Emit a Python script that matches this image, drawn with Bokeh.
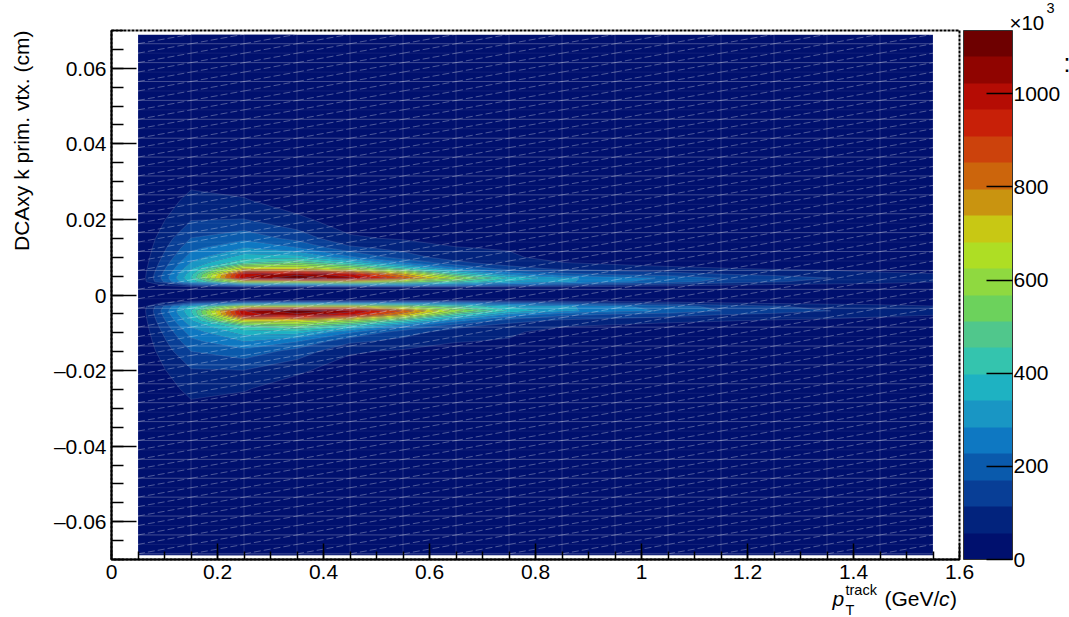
import numpy as np
from bokeh.plotting import figure
from bokeh.embed import file_html
from bokeh.resources import INLINE
from bokeh.layouts import column, row
from bokeh.models import (ColorBar, LinearColorMapper, FixedTicker, Label, Range1d)

pt_knots = [0.05, 0.15, 0.25, 0.35, 0.45, 0.55, 0.65, 0.75, 0.85, 0.95, 1.05, 1.15, 1.25, 1.35, 1.45, 1.55]
y_upper = [0, 0.0019, 0.0025, 0.0035, 0.0045, 0.0055, 0.007, 0.0085, 0.01, 0.0125, 0.015, 0.02, 0.025, 0.03, 0.0689]
y_lower = [0, 0.0013, 0.002, 0.003, 0.0042, 0.0052, 0.0068, 0.0083, 0.0098, 0.0123, 0.0148, 0.0198, 0.0248, 0.0298, 0.0689]

z_005 = [0, 0, 0, 0, 0, 0, 0, 0, 0, 0, 0, 0, 0, 0, 0]
z_015 = [0, 0, 120, 360, 395, 375, 330, 290, 255, 210, 172, 110, 72, 45, 0]
z_025 = [0, 0, 200, 650, 1020, 1000, 700, 450, 370, 284, 210, 115, 62, 30, 0]
z_035 = [0, 0, 220, 650, 1130, 1060, 700, 520, 370, 230, 150, 70, 25, 10, 0]
z_045 = [0, 0, 240, 680, 1040, 980, 600, 400, 240, 125, 65, 25, 8, 0, 0]
z_055 = [0, 0, 240, 580, 850, 760, 440, 240, 140, 95, 50, 12, 0, 0, 0]
z_065 = [0, 0, 220, 460, 600, 450, 250, 130, 85, 60, 30, 5, 0, 0, 0]
z_075 = [0, 0, 170, 340, 390, 270, 140, 85, 70, 50, 20, 0, 0, 0, 0]
z_085 = [0, 0, 130, 300, 300, 190, 100, 60, 25, 10, 0, 0, 0, 0, 0]
z_095 = [0, 0, 90, 240, 250, 160, 85, 45, 20, 0, 0, 0, 0, 0, 0]
z_105 = [0, 0, 70, 200, 220, 140, 70, 35, 15, 0, 0, 0, 0, 0, 0]
z_115 = [0, 0, 50, 150, 170, 115, 60, 30, 10, 0, 0, 0, 0, 0, 0]
z_125 = [0, 0, 35, 120, 140, 100, 50, 25, 8, 0, 0, 0, 0, 0, 0]
z_135 = [0, 0, 30, 95, 115, 85, 45, 20, 5, 0, 0, 0, 0, 0, 0]
z_145 = [0, 0, 25, 80, 95, 70, 35, 15, 0, 0, 0, 0, 0, 0, 0]
z_155 = [0, 0, 20, 60, 75, 60, 30, 10, 0, 0, 0, 0, 0, 0, 0]
columns = [z_005, z_015, z_025, z_035, z_045, z_055, z_065, z_075, z_085, z_095, z_105, z_115, z_125, z_135, z_145, z_155]

palette = ["#00106E", "#02237D", "#083E96", "#0A5AAC", "#0E78C2", "#1996C4", "#1EB2C2", "#34C4AE",
           "#50C78C", "#6CD25C", "#8FD940", "#AEDE24", "#C8C814", "#C99410", "#CC650C", "#CC420C",
           "#C82008", "#B50C04", "#900400", "#6E0000"]
z_top = 1136.0

x_major = [0, 0.2, 0.4, 0.6, 0.8, 1.0, 1.2, 1.4, 1.6]
x_labels = ["0", "0.2", "0.4", "0.6", "0.8", "1", "1.2", "1.4", "1.6"]
y_major = [-0.06, -0.04, -0.02, 0, 0.02, 0.04, 0.06]
y_labels = ["\u20130.06", "\u20130.04", "\u20130.02", "0", "0.02", "0.04", "0.06"]
cb_ticks = [0, 200, 400, 600, 800, 1000]

FONT = "Liberation Sans"
FS = "21px"

# page regions in pixels: strips hold the texts that lie outside the plot frame
W, H = 1069, 617
TOP, LEFT, RIGHT_X, BOTTOM_Y = 29, 40, 1062, 585
TOP_OVER, BOTTOM_OVER = 6, 5

def strip(x_a, x_b, y_a, y_b):
    s = figure(width=x_b - x_a, height=y_b - y_a, output_backend="svg", toolbar_location=None,
               x_range=Range1d(x_a, x_b), y_range=Range1d(y_b, y_a), min_border=0,
               x_axis_type=None, y_axis_type=None, background_fill_color=None, border_fill_color=None)
    s.grid.visible = False
    s.outline_line_color = None
    return s

def label(s, text, px, py, size=21.0, style="normal", **kw):
    s.add_layout(Label(x=px, y=py, text=text, text_font=FONT, text_font_size=f"{size}px", text_font_style=style,
                       text_color="black", text_baseline="top", **kw))

p = figure(frame_width=848, frame_height=529, output_backend="svg", toolbar_location=None,
           x_range=Range1d(0, 1.6), y_range=Range1d(-0.07, 0.07),
           min_border_left=111 - LEFT, min_border_top=30 - TOP, min_border_bottom=BOTTOM_Y - 559, min_border_right=103,
           background_fill_color="white", border_fill_color=None)
p.grid.visible = False
p.outline_line_color = "black"
p.outline_line_width = 2
p.outline_line_dash = "3 1"

y_all = np.array([-v for v in y_lower[:0:-1]] + y_upper)
z_all = np.array([c[:0:-1] + c for c in columns]).T.astype(float)
levels = list(np.linspace(0, z_top, len(palette) + 1))

p.quad(left=[pt_knots[0]], right=[pt_knots[-1]], bottom=[y_all[0]], top=[y_all[-1]],
       fill_color=palette[0], line_color=None)
p.contour(np.array(pt_knots), y_all, z_all, levels, fill_color=palette, line_color="white",
          line_alpha=[0.0] + [0.13] * len(palette), line_width=1)

# cell lines of the surface mesh
y_edges = np.arange(0.069, -0.0687, -0.0025)
bright = y_edges[1::2]
faint = y_edges[0::2]
x0, x1 = pt_knots[0], pt_knots[-1]
p.segment(x0=x0, x1=x1, y0=bright, y1=bright, line_color="white", line_alpha=0.26, line_width=1)
p.segment(x0=x0, x1=x1, y0=faint, y1=faint, line_color="white", line_alpha=0.07, line_width=1)
p.segment(x0=pt_knots, x1=pt_knots, y0=y_edges[-1], y1=y_edges[0], line_color="white", line_alpha=0.16, line_width=1)
xs0 = np.repeat(pt_knots[:-1], len(y_edges) - 1)
xs1 = np.repeat(pt_knots[1:], len(y_edges) - 1)
ys0 = np.tile(y_edges[1:], len(pt_knots) - 1)
ys1 = np.tile(y_edges[:-1], len(pt_knots) - 1)
p.segment(x0=xs0, x1=xs1, y0=ys0, y1=ys1, line_color="white", line_alpha=0.3, line_width=1, line_dash="7 3")

# axes
xa = p.xaxis[0]
xa.ticker = FixedTicker(ticks=x_major, minor_ticks=[round(i * 0.05, 2) for i in range(33)])
xa.major_label_overrides = dict(zip(x_major, x_labels))
ya = p.yaxis[0]
ya.ticker = FixedTicker(ticks=y_major, minor_ticks=[round(-0.07 + i * 0.005, 3) for i in range(29)])
ya.major_label_overrides = dict(zip(y_major, y_labels))
for ax in (xa, ya):
    ax.major_tick_out = 0
    ax.minor_tick_out = 0
    ax.axis_line_color = "black"
    ax.axis_line_width = 2
    ax.major_tick_line_color = "black"
    ax.minor_tick_line_color = "black"
    ax.major_tick_line_width = 1.5
    ax.minor_tick_line_width = 1.5
    ax.major_label_text_font = FONT
    ax.major_label_text_font_size = FS
    ax.major_label_text_color = "black"
xa.major_tick_in = 16
xa.minor_tick_in = 8
xa.major_label_standoff = 5
ya.major_tick_in = 25
ya.minor_tick_in = 12
ya.major_label_standoff = 5
ya.major_label_orientation = "horizontal"

# colour scale
mapper = LinearColorMapper(palette=palette, low=0, high=z_top)
cb = ColorBar(color_mapper=mapper, ticker=FixedTicker(ticks=cb_ticks), width=49, height=529,
              padding=0, margin=0, location=(4, 0),
              major_tick_in=26, major_tick_out=0, major_tick_line_color="black", major_tick_line_width=1.5,
              minor_tick_line_color=None, bar_line_color="#333333", bar_line_width=1, border_line_color=None,
              background_fill_color=None,
              major_label_text_font=FONT, major_label_text_font_size=FS, major_label_text_color="black",
              label_standoff=1)
p.add_layout(cb, "right")

# texts outside the frame (positions are the tops of the text boxes)
top = strip(0, W, 0, TOP + TOP_OVER)
label(top, "\u00d710", 1009, 10, size=20.5)
label(top, "3", 1046, 2, size=14.5)

left = strip(0, LEFT, TOP, BOTTOM_Y)
label(left, "DCAxy k prim. vtx. (cm)", 9, 29, size=21.0, angle=np.pi / 2, text_align="right")

right = strip(RIGHT_X, W, TOP, BOTTOM_Y)
label(right, ":", 1062, 48, size=25.0)

bottom = strip(0, W, BOTTOM_Y - BOTTOM_OVER, H)
label(bottom, "p", 832, 586, size=21.0, style="italic")
label(bottom, "track", 845, 581.5, size=14.5)
label(bottom, "T", 845, 601, size=14.5)
label(bottom, "(GeV/", 884, 586, size=21.0)
label(bottom, "c", 938.5, 586, size=21.0, style="italic")
label(bottom, ")", 949.5, 586, size=21.0)
bottom.margin = (-BOTTOM_OVER, 0, 0, 0)

middle = row(left, p, right, spacing=0)
middle.margin = (-TOP_OVER, 0, 0, 0)
page = column(top, middle, bottom, spacing=0)
open("out.html", "w").write(file_html(page, INLINE))
